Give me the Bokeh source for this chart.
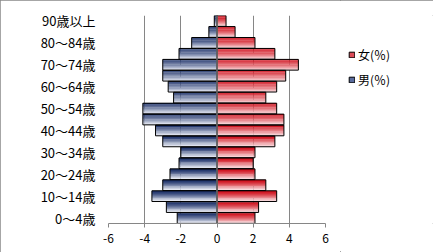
from bokeh.plotting import figure
from bokeh.layouts import row
from bokeh.models import (FixedTicker, Span, Legend, LegendItem, ColumnDataSource,
                          InlineStyleSheet)
from bokeh.embed import file_html
from bokeh.resources import INLINE

# ---- data ----
age_groups = ["0～4歳", "5～9歳", "10～14歳", "15～19歳", "20～24歳", "25～29歳",
              "30～34歳", "35～39歳", "40～44歳", "45～49歳", "50～54歳", "55～59歳",
              "60～64歳", "65～69歳", "70～74歳", "75～79歳", "80～84歳", "85～89歳",
              "90歳以上"]
male_pct = [2.2, 2.8, 3.6, 3.0, 2.6, 2.1, 2.0, 3.0, 3.4, 4.1, 4.1, 2.4, 2.7,
            3.0, 3.0, 2.1, 1.4, 0.45, 0.15]
female_pct = [2.1, 2.3, 3.3, 2.7, 2.1, 2.0, 2.1, 3.2, 3.7, 3.7, 3.3, 2.7, 3.3,
              3.8, 4.5, 3.2, 2.1, 1.0, 0.5]
x_ticks = [-6, -4, -2, 0, 2, 4, 6]
series_labels = ["女(％)", "男(％)"]

FONT = "Noto Sans CJK JP"
GRID = "#868686"


def lerp(c1, c2, t):
    a = [int(c1[i:i + 2], 16) for i in (1, 3, 5)]
    b = [int(c2[i:i + 2], 16) for i in (1, 3, 5)]
    return "#%02x%02x%02x" % tuple(round(a[k] + (b[k] - a[k]) * t) for k in range(3))


BLUE_TOP, BLUE_BOT = "#1c3068", "#e4e8f3"
RED_TOP, RED_BOT = "#cf0f1b", "#f9d6d9"

BAR_H = 0.98
N = 10
ys, lefts, rights, hs, cols = [], [], [], [], []
for i in range(len(age_groups)):
    c = i + 0.5
    for s in range(N):
        t = (s + 0.5) / N
        yc = c + BAR_H / 2 - t * BAR_H
        h = BAR_H / N * 1.15
        k = (s / (N - 1)) ** 1.3
        ys.append(yc); lefts.append(-male_pct[i]); rights.append(0.0)
        hs.append(h); cols.append(lerp(BLUE_TOP, BLUE_BOT, k))
        ys.append(yc); lefts.append(0.0); rights.append(female_pct[i])
        hs.append(h); cols.append(lerp(RED_TOP, RED_BOT, k))

grad_src = ColumnDataSource(dict(y=ys, left=lefts, right=rights, h=hs, color=cols))
centers = [i + 0.5 for i in range(len(age_groups))]
out_src = ColumnDataSource(dict(
    y=centers + centers,
    left=[-m for m in male_pct] + [0.0] * len(female_pct),
    right=[0.0] * len(male_pct) + female_pct,
))

p = figure(width=340, height=252, x_range=(-6, 6), y_range=(0, len(age_groups)),
           output_backend="svg", toolbar_location=None,
           min_border_left=108, min_border_right=15,
           min_border_top=15, min_border_bottom=29)
p.background_fill_color = "white"
p.border_fill_color = "white"
p.outline_line_color = None

p.hbar(y="y", left="left", right="right", height="h", source=grad_src,
       fill_color="color", line_color=None)
p.hbar(y="y", left="left", right="right", height=BAR_H, source=out_src,
       fill_color=None, line_color="black", line_width=1)

p.add_layout(Span(location=0, dimension="height", line_color=GRID, line_width=1.3))

# axes
p.xaxis.ticker = FixedTicker(ticks=x_ticks)
p.xaxis.major_label_overrides = {t: str(t) for t in x_ticks}
p.xaxis.axis_line_color = GRID
p.xaxis.major_tick_line_color = GRID
p.xaxis.major_tick_in = 0
p.xaxis.major_tick_out = 4
p.xaxis.minor_tick_line_color = None
p.xaxis.major_label_standoff = 6
p.xaxis.major_label_text_font = FONT
p.xaxis.major_label_text_font_size = "12px"
p.xaxis.major_label_text_color = "black"

p.yaxis.ticker = FixedTicker(ticks=[i + 0.5 for i in range(0, len(age_groups), 2)])
p.yaxis.major_label_overrides = {i + 0.5: age_groups[i] for i in range(0, len(age_groups), 2)}
p.yaxis.axis_line_color = None
p.yaxis.major_tick_line_color = None
p.yaxis.minor_tick_line_color = None
p.yaxis.major_tick_in = 0
p.yaxis.major_tick_out = 0
p.yaxis.major_label_standoff = 13
p.yaxis.major_label_text_font = FONT
p.yaxis.major_label_text_font_size = "13px"
p.yaxis.major_label_text_color = "black"

p.xgrid.ticker = FixedTicker(ticks=x_ticks)
p.xgrid.grid_line_color = GRID
p.ygrid.grid_line_color = None

# legend in a separate narrow panel on the right
q = figure(width=93, height=252, x_range=(0, 1), y_range=(0, 1),
           output_backend="svg", toolbar_location=None, min_border=0)
q.axis.visible = False
q.grid.visible = False
q.outline_line_color = None
q.background_fill_color = "white"
q.border_fill_color = "white"
nan = float("nan")
rf = q.hbar(y=[nan], right=[nan], height=0.1, fill_color="#dc4c58", line_color="black")
rm = q.hbar(y=[nan], right=[nan], height=0.1, fill_color="#5a6c9e", line_color="black")
legend = Legend(items=[LegendItem(label=series_labels[0], renderers=[rf]),
                       LegendItem(label=series_labels[1], renderers=[rm])],
                location=(8, 135), margin=0, padding=0,
                border_line_color=None, background_fill_alpha=0,
                glyph_width=7, glyph_height=7, label_height=13, spacing=8,
                label_standoff=3, label_text_font=FONT,
                label_text_font_size="12px", label_text_color="black")
q.add_layout(legend)

layout = row(p, q, spacing=0, stylesheets=[InlineStyleSheet(
    css=":host { outline: 1px solid #888888 !important; outline-offset: -1px !important; }")])

open("out.html", "w").write(file_html(layout, INLINE))
